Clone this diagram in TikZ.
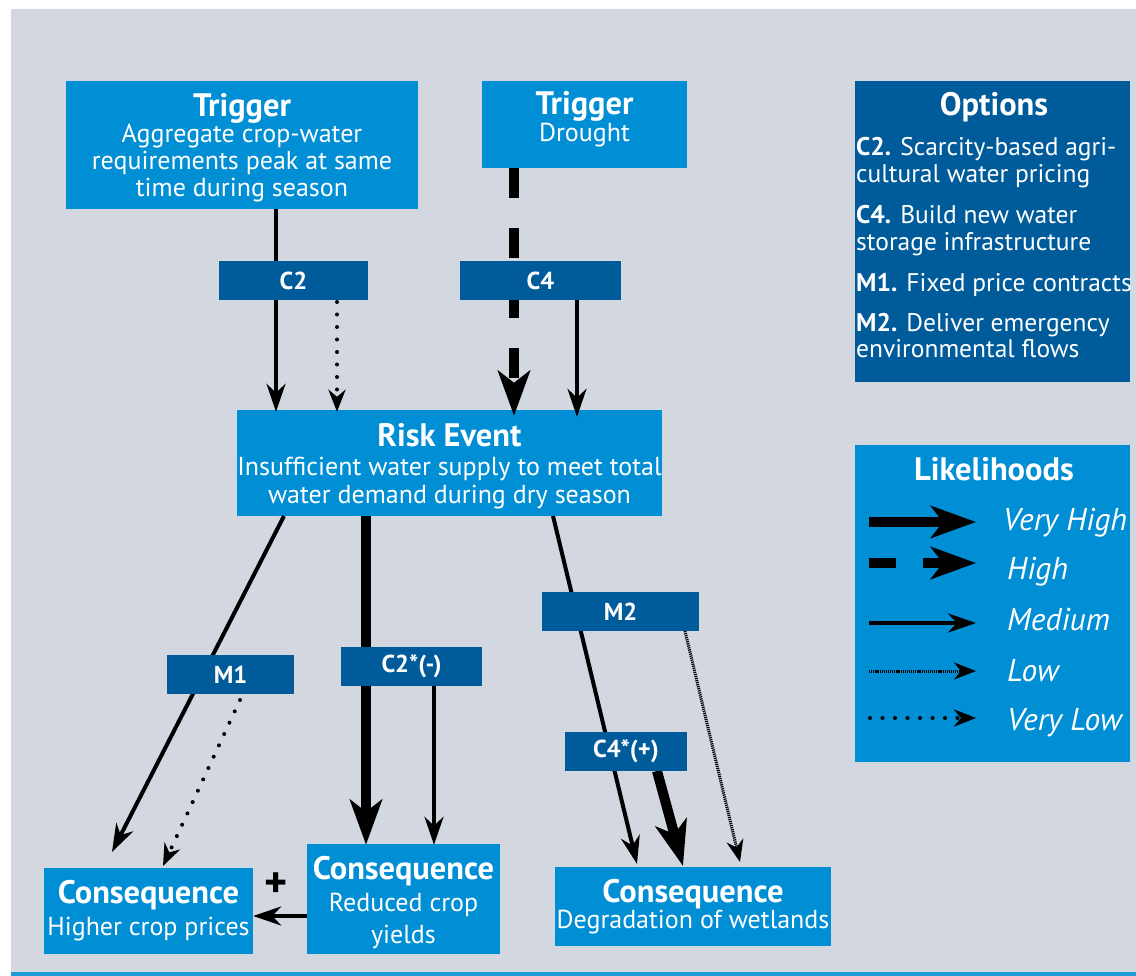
\documentclass[tikz,border=0pt]{standalone}
\usepackage{fontspec}
\setmainfont{PT Sans}
\usetikzlibrary{arrows.meta,calc}
\definecolor{panel}{RGB}{211,216,224}
\definecolor{boxblue}{RGB}{0,142,213}
\definecolor{darkblue}{RGB}{0,91,154}
\definecolor{barblue}{RGB}{30,155,215}
\newcommand\boxhead{\fontsize{32.5}{30}\selectfont\bfseries}
\newcommand\boxbody{\fontsize{26}{27}\selectfont}
% invisible rules that pad a line upwards or downwards
\newcommand\padup[1]{\rule{0pt}{#1}}
\newcommand\paddown[1]{\rule[-#1]{0pt}{1pt}}
\begin{document}
\begin{tikzpicture}[x=1pt,y=-1pt,
  box/.style={fill=boxblue,text=white,inner sep=0pt,align=center,font=\boxbody},
  optbox/.style={fill=darkblue,text=white,inner sep=0pt,align=center,font=\boxbody},
  tag/.style={fill=darkblue,text=white,inner sep=0pt,minimum height=39pt,
    font=\fontsize{24.5}{26}\selectfont\bfseries},
  legtext/.style={text=white,anchor=base west,inner sep=0pt,
    font=\fontsize{31.5}{32}\selectfont\itshape},
  opttext/.style={text=white,anchor=base west,inner sep=0pt,font=\fontsize{25.5}{27}\selectfont},
  medium/.style={line width=4pt,-{Stealth[length=28pt,width=19pt,inset=9pt]}},
  veryhigh/.style={line width=10pt,-{Stealth[length=45pt,width=32pt,inset=12pt]}},
  high/.style={veryhigh,dash pattern=on 30pt off 30pt},
  low/.style={line width=3pt,dash pattern=on 1.2pt off 0.9pt,
    -{Stealth[length=22pt,width=17pt,inset=7pt]}},
  verylow/.style={line width=4pt,line cap=round,dash pattern=on 0pt off 12.5pt,
    -{Stealth[length=22pt,width=17pt,inset=7pt]}}]

% page and panel
\useasboundingbox (0,0) rectangle (1136,976);
\fill[white] (0,0) rectangle (1136,976);
\fill[panel] (11,9) rectangle (1136,972);
\fill[barblue] (11,972) rectangle (1136,976);

% main boxes
\node[box,minimum width=352pt,minimum height=128pt] (t1) at (242,145)
  {\padup{29pt}{\boxhead Trigger}\\[-1pt] Aggregate crop-water\\ requirements peak at same\\ time during season};
\node[box,minimum width=205pt,minimum height=87pt] (t2) at (584.5,124.5)
  {{\boxhead Trigger}\\ Drought\paddown{16pt}};
\node[box,minimum width=423pt,minimum height=106pt] (risk) at (449.5,463)
  {\padup{29.5pt}{\boxhead Risk Event}\\[2pt] Insufficient water supply to meet total\\[1pt] water demand during dry season};
\node[box,minimum width=209pt,minimum height=86pt] (consL) at (148.5,911)
  {{\boxhead Consequence}\\[5pt] Higher crop prices};
\node[box,minimum width=193pt,minimum height=110pt] (consM) at (403.5,899)
  {\padup{31pt}{\boxhead Consequence}\\[5pt] Reduced crop\\[5pt] yields};
\node[box,minimum width=276pt,minimum height=79pt] (consR) at (693,906.5)
  {{\boxhead Consequence}\\[-1pt] Degradation of wetlands};

% x positions of connectors
\coordinate (xa) at (276,0);
\coordinate (xb) at (337,0);
\coordinate (xc) at (514,0);
\coordinate (xd) at (577,0);
\coordinate (xe) at (366,0);
\coordinate (xf) at (434,0);
\coordinate (r1) at (284,516);
\coordinate (e1) at (112,852);
\coordinate (m1s) at (240,700);
\coordinate (e2) at (163,866);
\coordinate (r3) at (553,516);
\coordinate (e3) at (637,864);
\coordinate (c4s) at (657,771);
\coordinate (e4) at (683,866);
\coordinate (m2s) at (685,631);
\coordinate (e5) at (740,862);

% connectors
\draw[medium] (t1.south -| xa) -- ([yshift=-2pt]risk.north -| xa);
\draw[verylow] (xb |- 0,302) -- ([yshift=-2pt]risk.north -| xb);
\draw[high] (t2.south -| xc) -- ([yshift=-6pt]risk.north -| xc);
\draw[medium] (xd |- 0,300) -- ([yshift=-7pt]risk.north -| xd);
\draw[medium] (r1) -- (e1);
\draw[verylow] (m1s) -- (e2);
\draw[veryhigh] (risk.south -| xe) -- ([yshift=-1pt]consM.north -| xe);
\draw[medium] (xf |- 0,686) -- ([yshift=-1pt]consM.north -| xf);
\draw[medium] (r3) -- (e3);
\draw[veryhigh] (c4s) -- (e4);
\draw[low] (m2s) -- (e5);
\draw[medium] (consM.west |- 0,916) -- (consL.east |- 0,916);
\node[font=\fontsize{44}{44}\selectfont\bfseries,inner sep=0pt] (plus) at (276,885) {+};

% option tags on the connectors
\node[tag,minimum width=149pt] (c2) at (293.5,280.5) {C2};
\node[tag,minimum width=161pt] (c4) at (540.5,280.5) {C4};
\node[tag,minimum width=127pt] (m1) at (230.5,674.5) {M1};
\node[tag,minimum width=141pt] (c2m) at (411.5,666.5) {C2*(-)};
\node[tag,minimum width=157pt] (m2) at (620.5,611.5) {M2};
\node[tag,minimum width=122pt] (c4p) at (626,751.5) {C4*(+)};

% options panel
\node[optbox,minimum width=275pt,minimum height=301pt] (opt) at (992.5,231.5) {};
\node[text=white,anchor=base,inner sep=0pt,font=\boxhead] (opttitle) at (994,116) {Options};
\node[opttext] (o1) at (856,156) {\textbf{C2.} Scarcity-based agri-};
\node[opttext] (o2) at (856,183) {cultural water pricing};
\node[opttext] (o3) at (856,224) {\textbf{C4.} Build new water};
\node[opttext] (o4) at (856,251) {storage infrastructure};
\node[opttext] (o5) at (856,292) {\textbf{M1.} Fixed price contracts};
\node[opttext] (o6) at (856,332) {\textbf{M2.} Deliver emergency};
\node[opttext] (o7) at (856,358) {environmental flows};

% likelihood legend
\node[fill=boxblue,inner sep=0pt,minimum width=275pt,minimum height=317pt] (lik) at (992.5,603.5) {};
\node[text=white,anchor=base,inner sep=0pt,font=\boxhead] (liktitle) at (994,480) {Likelihoods};
\coordinate (vh0) at (869,522); \coordinate (vh1) at (976,522);
\coordinate (hi0) at (869,563); \coordinate (hi1) at (976,563);
\coordinate (me0) at (869,623); \coordinate (me1) at (976,623);
\coordinate (lo0) at (869,671); \coordinate (lo1) at (976,671);
\coordinate (vl0) at (870,718); \coordinate (vl1) at (976,718);
\draw[veryhigh] (vh0) -- (vh1);
\draw[veryhigh,dash pattern=on 27pt off 27pt] (hi0) -- (hi1);
\draw[medium] (me0) -- (me1);
\draw[low] (lo0) -- (lo1);
\draw[verylow] (vl0) -- (vl1);
\node[legtext] (lvh) at (1003,530) {Very High};
\node[legtext] (lhi) at (1007,579) {High};
\node[legtext] (lme) at (1007,630) {Medium};
\node[legtext] (llo) at (1007,681) {Low};
\node[legtext] (lvl) at (1007,730) {Very Low};
\end{tikzpicture}
\end{document}
